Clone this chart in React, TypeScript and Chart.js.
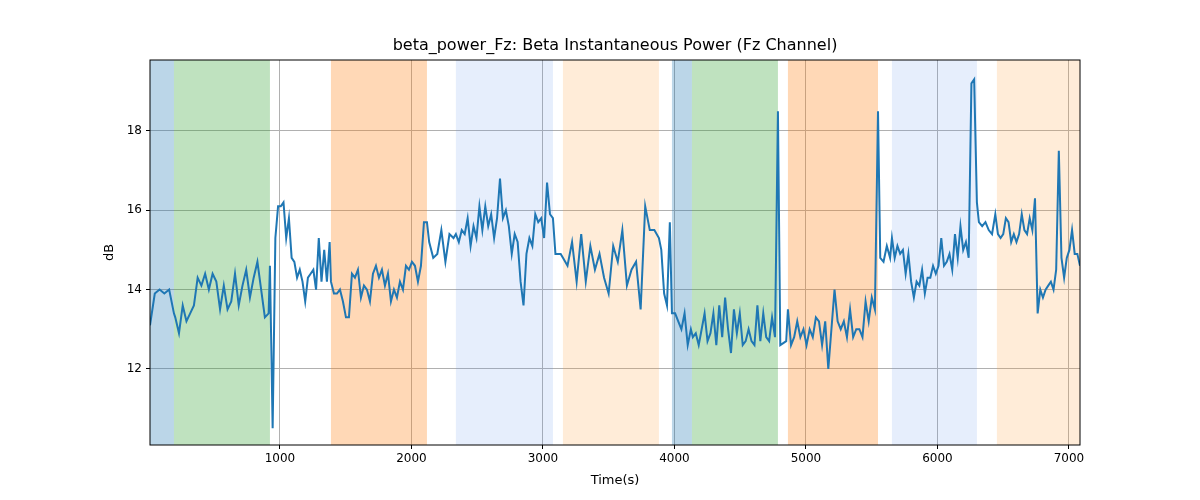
import React, { useEffect, useRef } from "react";
import { Chart, registerables } from "chart.js";
Chart.register(...registerables);

const X_MIN = 12;
const X_MAX = 7084;
const Y_MIN = 10.08;
const Y_MAX = 19.79;
const xTicks = [1000, 2000, 3000, 4000, 5000, 6000, 7000];
const yTicks = [12, 14, 16, 18];

// [start, end, color]
const bands: [number, number, string][] = [
  [12, 194, "rgba(31,119,180,0.3)"],
  [194, 924, "rgba(44,160,44,0.3)"],
  [1388, 2118, "rgba(255,127,14,0.3)"],
  [2338, 3076, "rgba(100,149,237,0.16)"],
  [3152, 3882, "rgba(255,160,60,0.2)"],
  [3981, 4133, "rgba(31,119,180,0.3)"],
  [4133, 4787, "rgba(44,160,44,0.3)"],
  [4863, 5548, "rgba(255,127,14,0.3)"],
  [5654, 6300, "rgba(100,149,237,0.16)"],
  [6452, 7084, "rgba(255,160,60,0.2)"],
];

// segments of the signal: [start time, end time, values]
const segments: [number, number, number[]][] = [
  [12, 194, [13.1, 13.9, 14.0, 13.9, 14.0, 13.4]],
  [204, 914, [13.3, 12.9, 13.6, 13.2, 13.4, 13.6, 14.3, 14.1, 14.4, 14.0, 14.4, 14.2, 13.5, 14.1, 13.5, 13.7, 14.4, 13.6, 14.1, 14.5, 13.8, 14.3, 14.7, 14.0, 13.3, 13.4]],
  [924, 1378, [14.6, 10.5, 15.3, 16.1, 16.1, 16.2, 15.3, 15.8, 14.8, 14.7, 14.3, 14.5, 14.2, 13.7, 14.3, 14.4, 14.5, 14.0, 15.3, 14.2, 15.0, 14.2, 15.2]],
  [1388, 2118, [14.2, 13.9, 13.9, 14.0, 13.7, 13.3, 13.3, 14.4, 14.3, 14.5, 13.8, 14.1, 14.0, 13.7, 14.4, 14.6, 14.3, 14.5, 14.1, 14.4, 13.7, 14.0, 13.8, 14.2, 14.0, 14.6, 14.5, 14.7, 14.6, 14.2, 14.6, 15.7, 15.7]],
  [2135, 2320, [15.2, 14.8, 14.9, 15.5, 14.7, 15.4, 15.3]],
  [2338, 3076, [15.4, 15.2, 15.5, 15.4, 15.8, 15.1, 15.6, 15.3, 16.1, 15.5, 16.1, 15.6, 15.9, 15.3, 15.8, 16.8, 15.8, 16.0, 15.6, 14.9, 15.4, 15.2, 14.2, 13.6, 14.9, 15.3, 15.1, 15.9, 15.7, 15.8, 15.3, 16.7, 15.9, 15.8]],
  [3095, 3135, [14.9, 14.9]],
  [3152, 3882, [14.8, 14.6, 15.2, 14.2, 15.4, 14.2, 15.1, 14.5, 14.9, 14.3, 13.9, 15.1, 14.7, 15.5, 14.1, 14.5, 14.7, 13.5, 16.1, 15.5, 15.5, 15.3]],
  [3900, 3965, [15.0, 13.9, 13.6, 15.7]],
  [3981, 4125, [13.4, 13.4, 13.2, 13.0, 13.4, 12.6, 13.0]],
  [4140, 4787, [12.8, 12.9, 12.6, 13.0, 13.4, 12.7, 12.9, 13.4, 12.6, 13.6, 12.8, 13.8, 13.0, 12.4, 13.5, 12.9, 13.4, 12.6, 12.7, 13.0, 12.7, 12.6, 13.6, 12.7, 13.4, 12.8, 12.7, 13.3, 12.8, 18.5]],
  [4805, 4850, [12.6, 12.7]],
  [4863, 5548, [13.5, 12.6, 12.8, 13.2, 12.8, 13.0, 12.6, 13.0, 12.8, 13.3, 13.2, 12.6, 13.2, 12.0, 13.0, 14.0, 13.2, 13.0, 13.2, 12.8, 13.5, 12.8, 13.0, 13.0, 12.8, 13.7, 13.2, 13.8, 13.5, 18.5]],
  [5565, 5640, [14.8, 14.7, 15.1, 14.8]],
  [5654, 6300, [15.3, 14.8, 15.1, 14.9, 15.0, 14.4, 14.9, 14.2, 13.8, 14.2, 14.1, 14.5, 13.9, 14.3, 14.3, 14.6, 14.4, 14.6, 15.3, 14.6, 14.7, 14.9, 14.5, 15.4, 14.8, 15.6, 15.0, 15.2, 14.8, 19.2, 19.3, 16.2]],
  [6315, 6440, [15.7, 15.6, 15.7, 15.5, 15.4, 15.9]],
  [6460, 7084, [15.4, 15.3, 15.4, 15.8, 15.7, 15.2, 15.4, 15.2, 15.4, 15.9, 15.5, 15.4, 15.8, 15.5, 16.3, 13.4, 14.0, 13.8, 14.0, 14.1, 14.2, 14.0, 14.5, 17.5, 14.8, 14.3, 14.8, 15.0, 15.5, 14.9, 14.9, 14.6]],
];

function buildPoints() {
  const pts: { x: number; y: number }[] = [];
  for (const [a, b, vals] of segments) {
    const n = vals.length;
    vals.forEach((v, i) => {
      pts.push({ x: n === 1 ? a : a + ((b - a) * i) / (n - 1), y: v });
    });
  }
  return pts;
}

const bandPlugin = {
  id: "bands",
  beforeDatasetsDraw(chart: any) {
    const { ctx, chartArea, scales } = chart;
    ctx.save();
    for (const [s, e, c] of bands) {
      const x1 = scales.x.getPixelForValue(s);
      const x2 = scales.x.getPixelForValue(e);
      ctx.fillStyle = c;
      ctx.fillRect(x1, chartArea.top, x2 - x1, chartArea.bottom - chartArea.top);
    }
    ctx.restore();
  },
  afterDraw(chart: any) {
    const { ctx, chartArea } = chart;
    ctx.save();
    ctx.strokeStyle = "#000";
    ctx.lineWidth = 1;
    ctx.strokeRect(chartArea.left, chartArea.top, chartArea.right - chartArea.left, chartArea.bottom - chartArea.top);
    ctx.fillStyle = "#000";
    ctx.font = '16px "DejaVu Sans"';
    ctx.textAlign = "center";
    ctx.textBaseline = "middle";
    ctx.fillText("beta_power_Fz: Beta Instantaneous Power (Fz Channel)", (chartArea.left + chartArea.right) / 2, 46);
    ctx.font = '13px "DejaVu Sans"';
    ctx.fillText("Time(s)", (chartArea.left + chartArea.right) / 2, 481);
    ctx.translate(110, (chartArea.top + chartArea.bottom) / 2);
    ctx.rotate(-Math.PI / 2);
    ctx.fillText("dB", 0, 0);
    ctx.restore();
  },
};

export default function App() {
  const ref = useRef<HTMLCanvasElement>(null);
  useEffect(() => {
    const chart = new Chart(ref.current!, {
      type: "line",
      data: {
        datasets: [
          {
            data: buildPoints(),
            borderColor: "#1f77b4",
            borderWidth: 2,
            pointRadius: 0,
            tension: 0,
            fill: false,
          },
        ],
      },
      options: {
        animation: false,
        responsive: false,
        layout: { padding: { top: 60, right: 120, left: 0, bottom: 0 } },
        plugins: { legend: { display: false }, title: { display: false }, tooltip: { enabled: false } },
        scales: {
          x: {
            type: "linear",
            min: X_MIN,
            max: X_MAX,
            afterBuildTicks: (s: any) => { s.ticks = xTicks.map((v) => ({ value: v })); },
            afterFit: (s: any) => { s.height = 55; },
            grid: { color: "#b0b0b0", drawTicks: true, tickLength: 4, tickColor: "#000" },
            border: { display: false },
            ticks: { color: "#000", font: { family: "DejaVu Sans", size: 12 }, maxRotation: 0, padding: 3, callback: (v: any) => String(v) },
          },
          y: {
            min: Y_MIN,
            max: Y_MAX,
            afterBuildTicks: (s: any) => { s.ticks = yTicks.map((v) => ({ value: v })); },
            afterFit: (s: any) => { s.width = 150; },
            grid: { color: "#b0b0b0", tickLength: 4, tickColor: "#000" },
            border: { display: false },
            ticks: { color: "#000", font: { family: "DejaVu Sans", size: 12 }, padding: 4, callback: (v: any) => String(v) },
          },
        },
      },
      plugins: [bandPlugin],
    });
    return () => chart.destroy();
  }, []);
  return (
    <div style={{ position: "fixed", left: 0, top: 0, background: "#fff" }}>
      <canvas ref={ref} width={1200} height={500} style={{ width: 1200, height: 500 }} />
    </div>
  );
}
